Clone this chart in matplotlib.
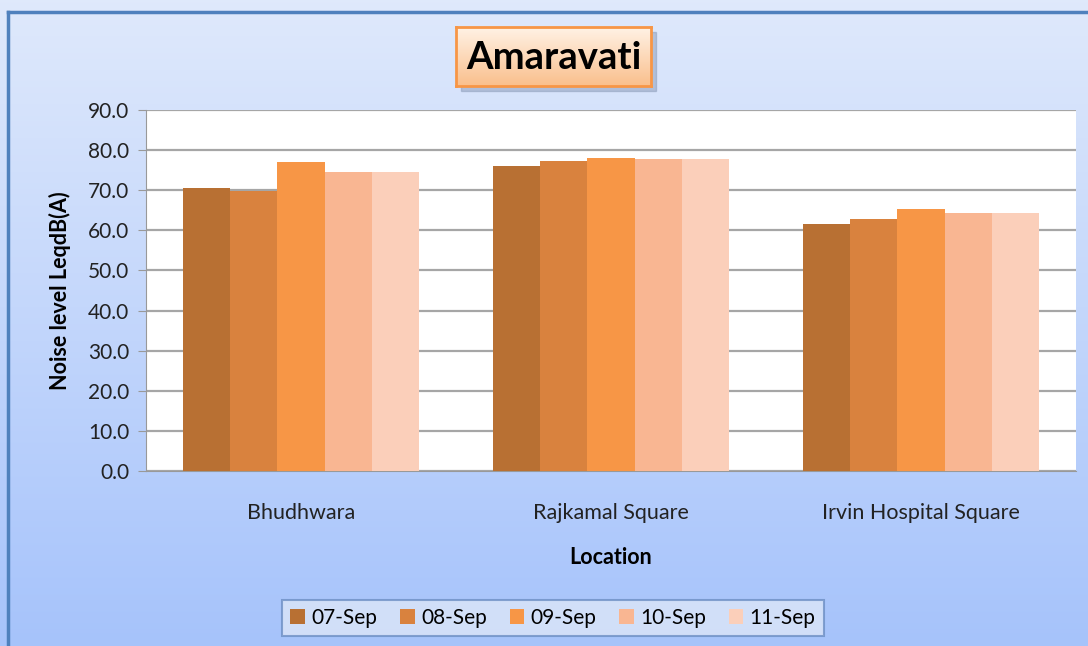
import matplotlib.pyplot as plt
import numpy as np
from matplotlib.patches import Rectangle

plt.rcParams['font.family'] = ['Lato', 'DejaVu Sans']

locations = ['Bhudhwara', 'Rajkamal Square', 'Irvin Hospital Square']
dates = ['07-Sep', '08-Sep', '09-Sep', '10-Sep', '11-Sep']
sep07 = [70.6, 76.0, 61.6]
sep08 = [69.9, 77.3, 62.8]
sep09 = [77.1, 78.1, 65.3]
sep10 = [74.6, 77.8, 64.4]
sep11 = [74.6, 77.8, 64.4]
series = [sep07, sep08, sep09, sep10, sep11]
colors = ['#b87033', '#d9823e', '#f79646', '#f9b692', '#fbcfba']

fig = plt.figure(figsize=(10.88, 6.46), dpi=100)

# background gradient
bg = fig.add_axes([0, 0, 1, 1], zorder=-10)
grad = np.linspace(0, 1, 256).reshape(-1, 1)
top = np.array([0.875, 0.914, 0.988])
bottom = np.array([0.651, 0.765, 0.984])
img = top + (bottom - top) * grad[:, :, None]
bg.imshow(img, aspect='auto', extent=[0, 1, 0, 1], origin='upper')
bg.plot([8 / 1088, 8 / 1088], [0, 1 - 12 / 646], color='#4f81bd', lw=2.5)
bg.plot([8 / 1088, 1], [1 - 12 / 646, 1 - 12 / 646], color='#4f81bd', lw=2.5)
bg.set_xlim(0, 1)
bg.set_ylim(0, 1)
bg.axis('off')

ax = fig.add_axes([146 / 1088, 1 - 471 / 646, 930 / 1088, 361 / 646])
ax.set_facecolor('white')
x = np.arange(len(locations))
w = 0.152
for i, (vals, lab) in enumerate(zip(series, dates)):
    ax.bar(x + (i - 2) * w, vals, w, color=colors[i], label=lab, zorder=3)

ax.set_ylim(0, 90)
ax.set_xlim(-0.5, 2.5)
ax.set_yticks(np.arange(0, 91, 10))
ax.set_yticklabels(['%.1f' % v for v in np.arange(0, 91, 10)], fontsize=15, color='#222222')
ax.set_xticks(x)
ax.set_xticklabels(locations, fontsize=15.5, color='#222222')
ax.tick_params(axis='x', length=0, pad=23)
ax.tick_params(axis='y', length=6, color='#999999', direction='out', pad=6)
ax.yaxis.grid(True, color='#a6a6a6', lw=1.6, zorder=0)
for s in ['top', 'right']:
    ax.spines[s].set_visible(False)
ax.spines['left'].set_color('#999999')
ax.spines['bottom'].set_color('#999999')
ax.set_ylabel('Noise level LeqdB(A)', fontsize=15.5, fontweight='bold', labelpad=12)
ax.set_xlabel('Location', fontsize=15.5, fontweight='bold', labelpad=17)

# title box with gradient
tax = fig.add_axes([456 / 1088, 1 - 86 / 646, 195 / 1088, 59 / 646])
shadow = Rectangle((461 / 1088, 1 - 91 / 646), 195 / 1088, 59 / 646,
                   transform=fig.transFigure, color='#8a9bb8', alpha=0.5, zorder=-5)
fig.patches.append(shadow)
ttop = np.array([1.0, 0.95, 0.90])
tbot = np.array([0.98, 0.75, 0.55])
timg = ttop + (tbot - ttop) * grad[:, :, None]
tax.imshow(timg, aspect='auto', extent=[0, 1, 0, 1], origin='upper')
tax.set_xticks([])
tax.set_yticks([])
for s in tax.spines.values():
    s.set_color('#f79646')
    s.set_linewidth(2)
tax.text(0.5, 0.48, 'Amaravati', ha='center', va='center', fontsize=27.5,
         fontweight='bold', color='black', transform=tax.transAxes)

leg = fig.legend(loc='center', bbox_to_anchor=(553 / 1088, 1 - 618 / 646), ncol=5,
                 fontsize=15, frameon=True, fancybox=False, handlelength=0.7,
                 handleheight=0.7, columnspacing=1.1, handletextpad=0.3,
                 borderpad=0.4)
leg.get_frame().set_facecolor('#dce6f8')
leg.get_frame().set_edgecolor('#6d8fc4')
leg.get_frame().set_linewidth(1.5)

plt.savefig('out.png', dpi=100)
